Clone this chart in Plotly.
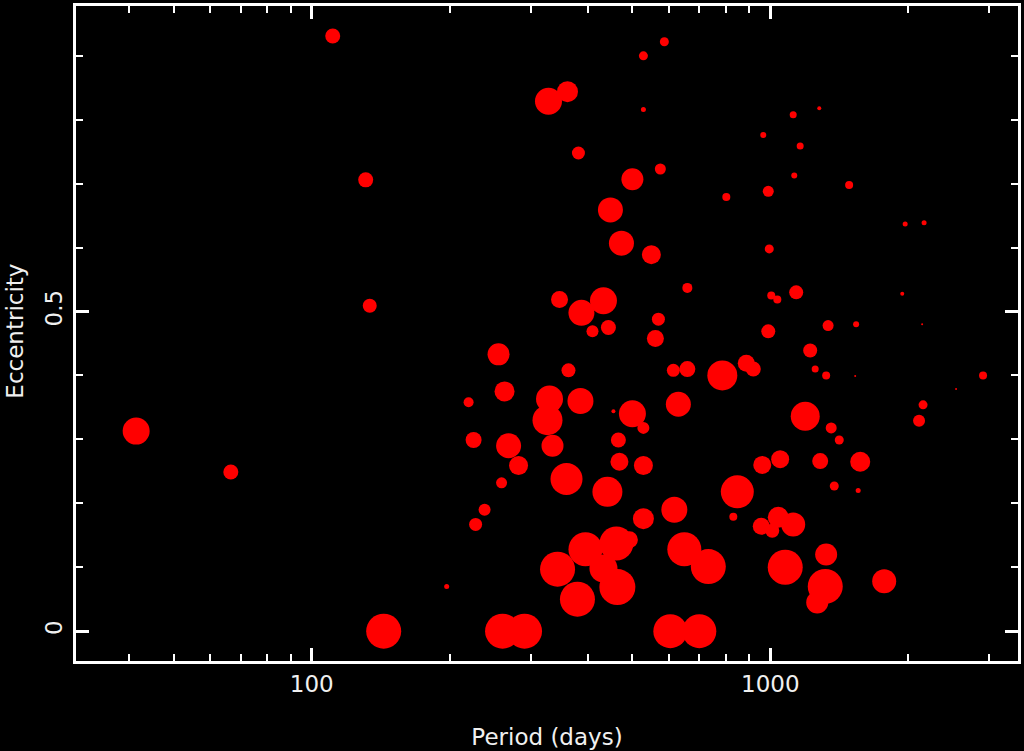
import plotly.graph_objects as go

# Orbital period (days), eccentricity and relative symbol size
period_days = [
    41.4, 66.6, 111.1, 131.1, 133.8, 143.5, 196.9, 219.8, 225.4, 227.7,
    238.2, 255.5, 259.4, 263.3, 260.7, 268.7, 282.5, 291.1, 328.3, 361.2,
    381.6, 330.0, 326.7, 385.5, 347.0, 387.4, 432.7, 409.5, 443.6, 363.0,
    335.0, 359.4, 454.9, 500.4, 528.8, 466.4, 468.8, 528.8, 441.4, 528.8,
    343.6, 395.3, 461.7, 492.9, 432.7, 464.0, 379.7, 473.6, 550.4, 448.1,
    500.4, 575.8, 528.8, 587.5, 528.8, 570.2, 561.6, 659.4, 614.6, 659.4,
    630.3, 617.7, 649.4, 732.6, 605.4, 700.3, 786.0, 886.6, 918.3, 801.9,
    847.4, 830.6, 955.9, 1041, 1010, 1122, 960.5, 1051, 1078, 1192,
    1358, 1414, 1285, 1571, 1379, 1555, 1324, 1318, 1266, 1772,
    994.9, 990.0, 1005, 1036, 1139, 1222, 1253, 1324, 1532, 1337,
    1539, 990.0, 965.4, 1122, 1279, 1162, 1128, 1486, 1969, 2165,
    1940, 2144, 2911, 2542, 2154, 2111,
]
eccentricity = [
    0.313, 0.249, 0.931, 0.706, 0.509, 0.000, 0.070, 0.358, 0.299, 0.167,
    0.190, 0.433, 0.232, 0.375, 0.000, 0.290, 0.259, 0.000, 0.829, 0.844,
    0.748, 0.363, 0.330, 0.360, 0.519, 0.498, 0.517, 0.469, 0.475, 0.408,
    0.290, 0.238, 0.344, 0.340, 0.318, 0.299, 0.265, 0.259, 0.218, 0.176,
    0.097, 0.128, 0.137, 0.143, 0.098, 0.069, 0.050, 0.607, 0.589, 0.659,
    0.707, 0.723, 0.900, 0.922, 0.816, 0.488, 0.458, 0.537, 0.408, 0.410,
    0.355, 0.190, 0.128, 0.101, 0.000, 0.000, 0.400, 0.419, 0.410, 0.679,
    0.218, 0.179, 0.164, 0.178, 0.157, 0.167, 0.260, 0.269, 0.100, 0.336,
    0.318, 0.299, 0.266, 0.265, 0.227, 0.220, 0.120, 0.070, 0.045, 0.078,
    0.598, 0.469, 0.525, 0.519, 0.530, 0.439, 0.410, 0.400, 0.399, 0.478,
    0.480, 0.688, 0.776, 0.808, 0.818, 0.759, 0.713, 0.698, 0.637, 0.639,
    0.528, 0.480, 0.400, 0.379, 0.354, 0.329,
]
symbol_size = [
    27, 15, 15, 15, 14, 35, 5, 10, 16, 13,
    12, 22, 11, 20, 35, 25, 19, 35, 27, 21,
    13, 27, 30, 26, 17, 26, 27, 12, 15, 14,
    22, 32, 4, 27, 12, 15, 18, 19, 30, 21,
    35, 34, 34, 17, 28, 36, 35, 25, 19, 25,
    22, 11, 9, 9, 5, 13, 17, 10, 13, 16,
    25, 26, 34, 35, 34, 34, 30, 17, 15, 8,
    33, 8, 17, 21, 14, 24, 18, 18, 35, 29,
    11, 9, 16, 20, 9, 5, 22, 35, 22, 24,
    9, 14, 8, 8, 14, 14, 7, 8, 2, 11,
    6, 11, 6, 7, 4, 7, 6, 8, 5, 5,
    4, 2, 8, 2, 9, 12,
]

x_ticks = [100, 1000]
x_tick_labels = ["100", "1000"]
y_ticks = [0, 0.5]
y_tick_labels = ["0", "0.5"]

fig = go.Figure(
    go.Scatter(
        x=period_days,
        y=eccentricity,
        mode="markers",
        marker=dict(color="#ff0000", size=symbol_size, sizemode="diameter",
                    line=dict(width=0), opacity=1),
        hoverinfo="x+y",
    )
)

font = dict(family="DejaVu Sans, sans-serif", color="#f0f0f0", size=23)

fig.update_layout(
    width=1024,
    height=751,
    margin=dict(l=76, r=5, t=3, b=90),
    paper_bgcolor="black",
    plot_bgcolor="black",
    showlegend=False,
    font=font,
    xaxis=dict(
        type="log",
        range=[1.4858, 3.5403],
        showgrid=False,
        zeroline=False,
        showline=True,
        linecolor="white",
        linewidth=3,
        mirror="allticks",
        ticks="inside",
        ticklen=13,
        tickwidth=3,
        tickcolor="white",
        tickvals=x_ticks,
        ticktext=x_tick_labels,
        tickfont=font,
        minor=dict(ticks="inside", ticklen=7, tickwidth=2, tickcolor="white",
                   dtick="D1", showgrid=False),
        title=dict(text="Period (days)", font=font, standoff=34),
    ),
    yaxis=dict(
        range=[-0.0467, 0.978],
        showgrid=False,
        zeroline=False,
        showline=True,
        linecolor="white",
        linewidth=3,
        mirror="allticks",
        ticks="inside",
        ticklen=13,
        tickwidth=3,
        tickcolor="white",
        tickvals=y_ticks,
        ticktext=y_tick_labels,
        tickangle=-90,
        tickfont=font,
        ticklabelstandoff=2,
        minor=dict(ticks="inside", ticklen=7, tickwidth=2, tickcolor="white",
                   dtick=0.1, showgrid=False),
    ),
    annotations=[
        dict(
            text="Eccentricity",
            xref="paper", yref="paper",
            x=-0.0657, y=0.503,
            xanchor="center", yanchor="middle",
            textangle=-90,
            showarrow=False,
            font=font,
        )
    ],
)

fig.write_html(
    "out.html",
    config={"displayModeBar": False},
    post_script="document.body.style.margin='0';document.body.style.background='black';",
)
